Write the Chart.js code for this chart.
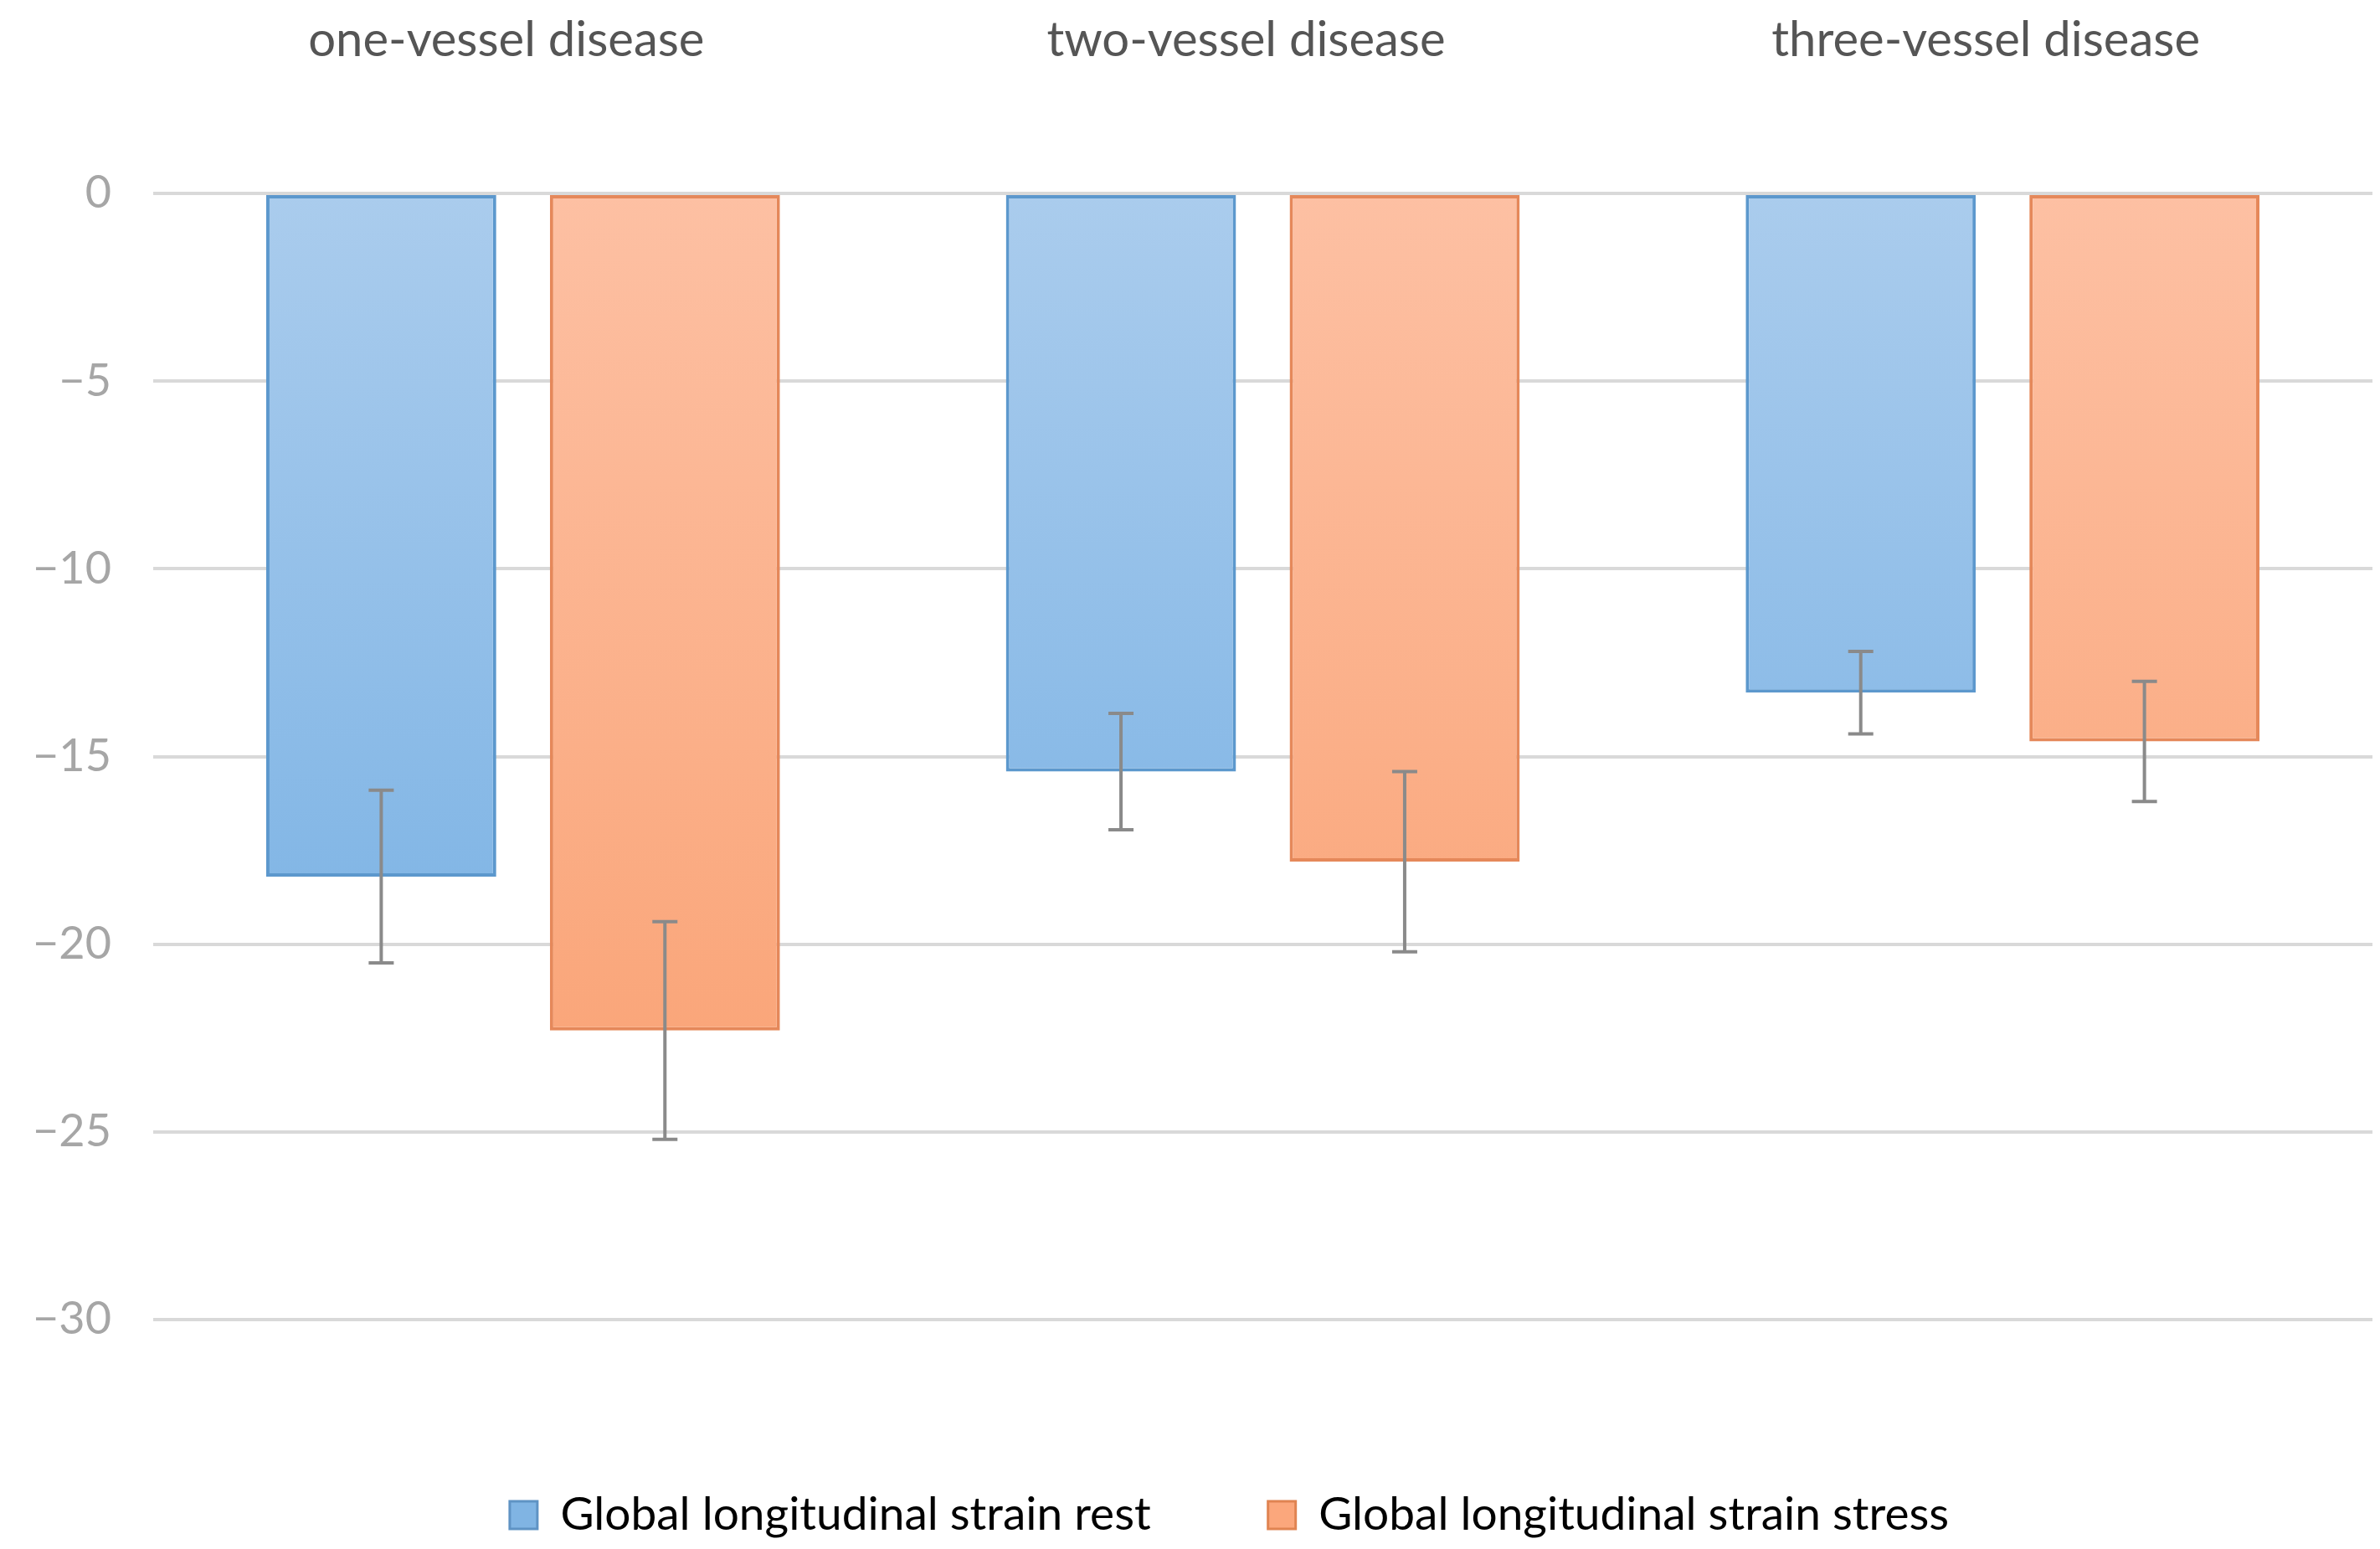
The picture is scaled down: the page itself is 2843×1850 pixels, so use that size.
<!DOCTYPE html>
<html>
<head>
<meta charset="utf-8">
<script src="https://cdn.jsdelivr.net/npm/chart.js@4.4.1/dist/chart.umd.min.js"></script>
<style>
  html, body { margin: 0; padding: 0; background: #fff; }
  #wrap { width: 2843px; height: 1850px; }
</style>
</head>
<body>
<div id="wrap"><canvas id="strainChart"></canvas></div>
<script>
// Data
const categories = ['one-vessel disease', 'two-vessel disease', 'three-vessel disease'];
const seriesNames = ['Global longitudinal strain rest', 'Global longitudinal strain stress'];
const restMean = [-18.2, -15.4, -13.3];
const restSD = [2.3, 1.55, 1.1];
const stressMean = [-22.3, -17.8, -14.6];
const stressSD = [2.9, 2.4, 1.6];
const yMin = -30;
const yMax = 0;
const yStep = 5;

const FONT = 'Lato, "Open Sans", sans-serif';

function barGradient(context, top, bottom) {
    const area = context.chart.chartArea;
    if (!area) return top;
    const g = context.chart.ctx.createLinearGradient(0, area.top, 0, area.bottom);
    g.addColorStop(0, top);
    g.addColorStop(1, bottom);
    return g;
}

// error bars drawn on top of each bar (mean +/- SD)
const errorBars = {
    id: 'errorBars',
    afterDatasetsDraw(chart) {
        const ctx = chart.ctx;
        const y = chart.scales.y;
        const sds = [restSD, stressSD];
        chart.data.datasets.forEach((ds, i) => {
            chart.getDatasetMeta(i).data.forEach((bar, j) => {
                const top = y.getPixelForValue(ds.data[j] + sds[i][j]);
                const bot = y.getPixelForValue(ds.data[j] - sds[i][j]);
                ctx.save();
                ctx.strokeStyle = '#8a8a8a';
                ctx.lineWidth = 4;
                ctx.beginPath();
                ctx.moveTo(bar.x, top);
                ctx.lineTo(bar.x, bot);
                ctx.moveTo(bar.x - 15, top);
                ctx.lineTo(bar.x + 15, top);
                ctx.moveTo(bar.x - 15, bot);
                ctx.lineTo(bar.x + 15, bot);
                ctx.stroke();
                ctx.restore();
            });
        });
    }
};

// keep the legend low, close to the bottom edge, and nudge it a bit left
const legendFit = {
    id: 'legendFit',
    afterInit(chart) {
        const fit = chart.legend.fit;
        chart.legend.fit = function () {
            fit.call(this);
            this.height = 208;
        };
    },
    afterLayout(chart) {
        chart.legend.left -= 40;
        chart.legend.right -= 40;
    }
};

new Chart(document.getElementById('strainChart'), {
    type: 'bar',
    data: {
        labels: categories,
        datasets: [{
            label: seriesNames[0],
            data: restMean,
            backgroundColor: (c) => barGradient(c, '#aacced', '#6aa9e1'),
            borderColor: '#5c98cd',
            borderWidth: 4,
            borderSkipped: false
        }, {
            label: seriesNames[1],
            data: stressMean,
            backgroundColor: (c) => barGradient(c, '#fdc0a3', '#f99d6c'),
            borderColor: '#e5885a',
            borderWidth: 4,
            borderSkipped: false
        }]
    },
    options: {
        responsive: true,
        maintainAspectRatio: false,
        devicePixelRatio: 1,
        animation: false,
        categoryPercentage: 0.767,
        barPercentage: 0.811,
        layout: {
            padding: { top: 0, right: 9, left: 0, bottom: 0 }
        },
        plugins: {
            tooltip: { enabled: false },
            legend: {
                position: 'bottom',
                fullSize: false,
                labels: {
                    color: '#8c8c8c',
                    font: { family: FONT, size: 55 },
                    boxWidth: 33,
                    boxHeight: 33,
                    padding: 140,
                    generateLabels: () => [
                        { text: seriesNames[0], fillStyle: '#80b4e3', strokeStyle: '#5f93c4', lineWidth: 3, datasetIndex: 0, hidden: false },
                        { text: seriesNames[1], fillStyle: '#fba77c', strokeStyle: '#e08452', lineWidth: 3, datasetIndex: 1, hidden: false }
                    ]
                }
            }
        },
        scales: {
            x: {
                position: 'top',
                grid: { display: false },
                border: { display: false },
                ticks: {
                    color: '#555555',
                    font: { family: FONT, size: 58 },
                    padding: 140,
                    labelOffset: -20
                },
                afterFit: (s) => { s.height = 231; }
            },
            x2: {
                type: 'category',
                position: 'bottom',
                grid: { display: false },
                border: { display: false },
                ticks: { display: false },
                afterFit: (s) => { s.height = 66; }
            },
            y: {
                min: yMin,
                max: yMax,
                grid: {
                    color: '#d9d9d9',
                    lineWidth: 4,
                    drawTicks: false
                },
                border: { display: false },
                ticks: {
                    stepSize: yStep,
                    color: '#a6a6a6',
                    font: { family: FONT, size: 54 },
                    padding: 50,
                    callback: (v) => v < 0 ? '\u2212' + Math.abs(v) : String(v)
                },
                afterFit: (s) => { s.width = 183; }
            }
        }
    },
    plugins: [errorBars, legendFit]
});
</script>
</body>
</html>
